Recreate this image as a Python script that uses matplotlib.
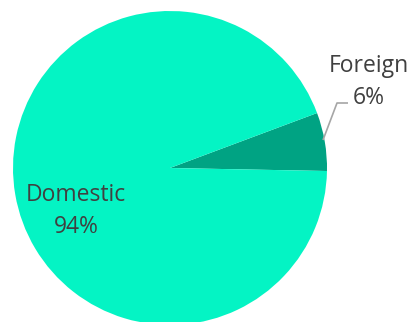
import matplotlib.pyplot as plt

labels = ['Foreign', 'Domestic']
shares = [6, 94]
colors = ['#00A383', '#04F4C4']

W, H = 410, 322
fig = plt.figure(figsize=(W / 100, H / 100), dpi=100)
ax = fig.add_axes([0, 0, 1, 1])

# work in pixel units, y measured from the bottom
cx, cy, r = 170, H - 168, 157
ax.pie(shares, colors=colors, startangle=-1.1, counterclock=True,
       radius=r, center=(cx, cy), wedgeprops=dict(linewidth=0))

ax.set_xlim(0, W)
ax.set_ylim(0, H)
ax.set_aspect('equal')
ax.axis('off')

txt = dict(fontsize=16.5, color='#404040', family='Open Sans', ha='center', va='baseline')
# label name on one line, percentage on the next
ax.text(76, H - 201, labels[1], **txt)
ax.text(76, H - 233, f'{shares[1]}%', **txt)
ax.text(369, H - 72, labels[0], **txt)
ax.text(369, H - 104, f'{shares[0]}%', **txt)

# leader line for the small slice
ax.plot([323, 337, 348], [H - 140, H - 103, H - 103], color='#A6A6A6', lw=1.2,
        solid_capstyle='butt')

fig.savefig('out.png', dpi=100)
